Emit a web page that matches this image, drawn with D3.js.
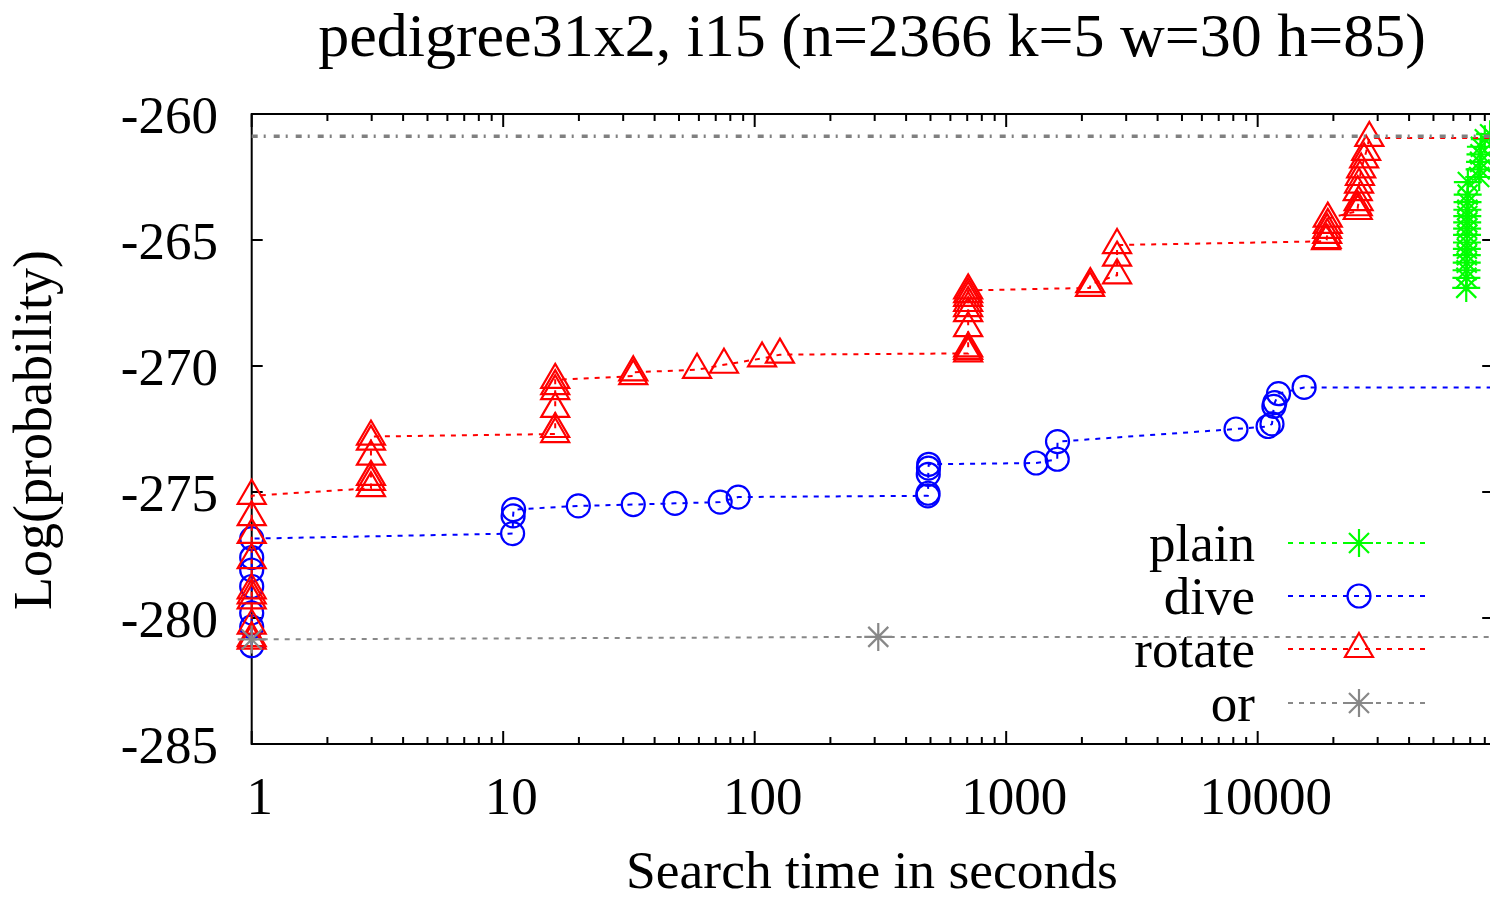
<!DOCTYPE html>
<html><head><meta charset="utf-8">
<script src="https://cdn.jsdelivr.net/npm/d3@7"></script>
<style>body{margin:0;background:#fff;overflow:hidden} text{font-family:"Liberation Serif","Times New Roman",serif;fill:#000}</style>
</head><body><svg id="c" width="1490" height="900"></svg>
<script>
const title = "pedigree31x2, i15 (n=2366 k=5 w=30 h=85)";
const xLabel = "Search time in seconds";
const yLabel = "Log(probability)";
const xTicks = [1, 10, 100, 1000, 10000];
const xTickLabels = ["1", "10", "100", "1000", "10000"];
const yTicks = [-260, -265, -270, -275, -280, -285];
const xMin = 1, xMax = 86400;
const yMin = -285, yMax = -260;
const optimum = -260.88;
const seriesNames = ["plain", "dive", "rotate", "or"];
const seriesColors = ["#00ff00", "#0000ff", "#ff0000", "#888888"];

// [time (s), log probability]
const plain = [
  [67500,-266.9],[67600,-266.5],[67700,-266.2],[67800,-265.9],[67850,-265.6],[67900,-265.35],
  [67950,-265.1],[68000,-264.8],[68050,-264.55],[68100,-264.3],[68150,-264.05],[68200,-263.8],
  [68300,-263.5],[68400,-263.2],[68500,-262.7],[76000,-262.5],[76300,-262.2],[76600,-261.9],
  [76900,-261.6],[77200,-261.3],[80000,-261.0],[84000,-260.8]
];
const dive = [
  [1,-281.1],[1,-280.35],[1,-279.8],[1,-278.75],[1,-278.1],[1,-277.6],[1,-276.85],
  [10.9,-276.65],[10.95,-275.95],[11.0,-275.7],
  [19.9,-275.55],[32.9,-275.5],[48.2,-275.45],[72.9,-275.4],[86,-275.2],
  [488,-275.15],[489,-275.05],[490,-274.3],[491,-274.05],[492,-273.9],
  [1315,-273.85],[1596,-273.7],[1600,-273.0],
  [8200,-272.5],[11000,-272.4],[11400,-272.3],[11600,-271.6],[11700,-271.45],[12100,-271.1],
  [15300,-270.85]
];
const rotate = [
  [1,-280.9],[1,-280.8],[1,-280.3],[1,-279.3],[1,-279.1],[1,-278.9],[1,-277.7],[1,-276.7],[1,-276.0],[1,-275.15],
  [2.98,-274.85],[2.98,-274.6],[2.98,-274.4],[2.98,-273.6],[2.98,-273.0],[2.98,-272.8],
  [16.1,-272.7],[16.1,-272.5],[16.1,-271.7],[16.1,-271.0],[16.1,-270.8],[16.1,-270.55],
  [32.9,-270.4],[32.9,-270.25],
  [59,-270.15],[75.5,-269.95],[107,-269.7],[126,-269.55],
  [706,-269.5],[706,-269.4],[706,-269.3],[706,-268.5],[706,-267.9],[706,-267.7],[706,-267.5],[706,-267.3],[706,-267.15],[706,-267.0],
  [2155,-266.9],[2160,-266.75],
  [2760,-266.4],[2760,-265.7],[2760,-265.2],
  [18700,-265.05],[18800,-265.0],[18900,-264.8],[18900,-264.6],[19000,-264.4],[19000,-264.15],
  [25000,-263.85],[25000,-263.7],[25200,-263.5],[25000,-263.1],[25300,-262.8],[25500,-262.5],
  [25800,-262.2],[26500,-261.8],[27000,-261.5],[27800,-260.95]
];
const orSeries = [[1,-280.85],[310,-280.75]];

const svg = d3.select("#c");
svg.append("rect").attr("width",1490).attr("height",900).attr("fill","#fff");

const x = d3.scaleLog().domain([xMin, xMax]).range([251.7, 1493.2]);
const y = d3.scaleLinear().domain([yMin, yMax]).range([744, 114]);
const [x0, x1] = x.range(), [y0, y1] = y.range();

// ticks (inward, mirrored)
const minor = [];
for (let d = 1; d <= 10000; d *= 10) for (let m = 2; m <= 9; m++) if (d*m < xMax) minor.push(d*m);
const tg = svg.append("g").attr("stroke","#000").attr("stroke-width",2);
xTicks.forEach(t => {
  tg.append("line").attr("x1",x(t)).attr("x2",x(t)).attr("y1",y0).attr("y2",y0-13);
  tg.append("line").attr("x1",x(t)).attr("x2",x(t)).attr("y1",y1).attr("y2",y1+13);
});
minor.forEach(t => {
  tg.append("line").attr("x1",x(t)).attr("x2",x(t)).attr("y1",y0).attr("y2",y0-7);
  tg.append("line").attr("x1",x(t)).attr("x2",x(t)).attr("y1",y1).attr("y2",y1+7);
});
yTicks.forEach(v => {
  tg.append("line").attr("x1",x0).attr("x2",x0+11).attr("y1",y(v)).attr("y2",y(v));
  tg.append("line").attr("x1",x1).attr("x2",x1-11).attr("y1",y(v)).attr("y2",y(v));
});
svg.append("rect").attr("x",x0).attr("y",y1).attr("width",x1-x0).attr("height",y0-y1)
  .attr("fill","none").attr("stroke","#000").attr("stroke-width",2);

// tick labels
xTicks.forEach((t,i) => svg.append("text").attr("x",x(t)+8).attr("y",814)
  .attr("text-anchor","middle").attr("font-size",53).text(xTickLabels[i]));
yTicks.forEach(v => svg.append("text").attr("x",218).attr("y",y(v)+19)
  .attr("text-anchor","end").attr("font-size",53).text(v));

svg.append("text").attr("x",872).attr("y",56).attr("text-anchor","middle").attr("font-size",62).text(title);
svg.append("text").attr("x",872).attr("y",888).attr("text-anchor","middle").attr("font-size",53.5).text(xLabel);
svg.append("text").attr("transform","translate(51,430) rotate(-90)").attr("text-anchor","middle").attr("font-size",54).text(yLabel);

// markers
function marker(g, kind, cx, cy, color) {
  if (kind === "circle") {
    g.append("circle").attr("cx",cx).attr("cy",cy).attr("r",11.5)
      .attr("fill","none").attr("stroke",color).attr("stroke-width",2.2);
  } else if (kind === "tri") {
    g.append("path").attr("transform",`translate(${cx},${cy})`).attr("d","M0,-16L14,8L-14,8Z")
      .attr("fill","none").attr("stroke",color).attr("stroke-width",2.2);
  } else {
    g.append("path").attr("transform",`translate(${cx},${cy})`)
      .attr("d","M-14,0H14M0,-14V14M-10,-10L10,10M-10,10L10,-10")
      .attr("fill","none").attr("stroke",color).attr("stroke-width",2.2);
  }
}
const kinds = ["star","circle","tri","star"];
const allSeries = [plain, dive, rotate, orSeries];
const line = d3.line().x(d => x(d[0])).y(d => y(d[1]));
allSeries.forEach((data, i) => {
  const g = svg.append("g");
  const ext = data.concat([[xMax, data[data.length-1][1]]]);
  g.append("path").attr("d", line(ext)).attr("fill","none").attr("stroke",seriesColors[i])
    .attr("stroke-width",2).attr("stroke-dasharray","5,6");
  data.forEach(d => marker(g, kinds[i], x(d[0]), y(d[1]), seriesColors[i]));
});

// optimum reference line (dash-dot)
svg.append("line").attr("x1",x0).attr("x2",x1).attr("y1",y(optimum)).attr("y2",y(optimum))
  .attr("stroke","#808080").attr("stroke-width",3.5).attr("stroke-dasharray","6,6,2,8");

// legend
const legY = [543, 596, 649, 703];
seriesNames.forEach((n, i) => {
  const g = svg.append("g");
  g.append("text").attr("x",1255).attr("y",legY[i]+18).attr("text-anchor","end").attr("font-size",53).text(n);
  g.append("line").attr("x1",1288).attr("x2",1426).attr("y1",legY[i]).attr("y2",legY[i])
    .attr("stroke",seriesColors[i]).attr("stroke-width",2).attr("stroke-dasharray","5,6");
  marker(g, kinds[i], 1359, legY[i], seriesColors[i]);
});
</script></body></html>
